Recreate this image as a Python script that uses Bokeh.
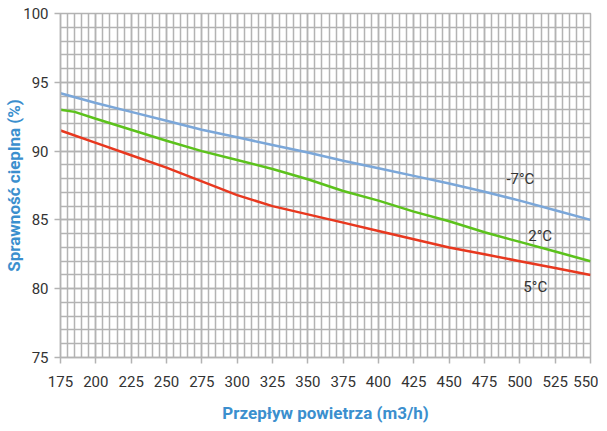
from bokeh.plotting import figure
from bokeh.models import Range1d, FixedTicker, Label
from bokeh.embed import file_html
from bokeh.resources import INLINE

# Data
flow = [175, 200, 225, 250, 275, 300, 325, 350, 375, 400, 425, 450, 475, 500, 525, 550]
eff_m7 = [94.2, 93.5, 92.85, 92.2, 91.55, 91.0, 90.45, 89.9, 89.3, 88.75, 88.2, 87.65, 87.05, 86.4, 85.7, 85.0]
flow_2 = [175, 185, 200, 225, 250, 275, 300, 325, 350, 375, 400, 425, 450, 475, 500, 525, 550]
eff_2 = [93.0, 92.85, 92.35, 91.55, 90.75, 90.0, 89.35, 88.7, 87.95, 87.1, 86.4, 85.6, 84.9, 84.1, 83.4, 82.7, 82.0]
eff_5 = [91.5, 90.6, 89.7, 88.8, 87.8, 86.8, 86.0, 85.4, 84.8, 84.2, 83.6, 83.0, 82.5, 82.0, 81.5, 81.0]

series_labels = ["-7°C", "2°C", "5°C"]
label_x = [490.5, 506, 502.5]
label_y = [87.95, 83.85, 80.1]

x_ticks = list(range(175, 551, 25))
y_ticks = [75, 80, 85, 90, 95, 100]

grid_col = "#b3b3b3"
title_col = "#3b8fce"
text_col = "#333333"
font = "Roboto"

p = figure(width=598, height=425, output_backend="svg", toolbar_location=None,
           x_range=Range1d(175, 550), y_range=Range1d(75, 100),
           min_border_left=60, min_border_right=8, min_border_top=13, min_border_bottom=68)

p.xaxis.ticker = FixedTicker(ticks=x_ticks, minor_ticks=list(range(175, 551, 5)))
p.yaxis.ticker = FixedTicker(ticks=y_ticks, minor_ticks=list(range(75, 101, 1)))

for g in (p.xgrid, p.ygrid):
    g.grid_line_color = grid_col
    g.grid_line_width = 1.5
    g.minor_grid_line_color = grid_col
    g.minor_grid_line_width = 1.5

p.outline_line_color = grid_col
p.outline_line_width = 1.5

for ax in (p.xaxis, p.yaxis):
    ax.axis_line_color = grid_col
    ax.axis_line_width = 1.5
    ax.major_tick_line_color = grid_col
    ax.major_tick_line_width = 1.5
    ax.major_tick_out = 6
    ax.major_tick_in = 0
    ax.minor_tick_out = 0
    ax.minor_tick_in = 0
    ax.major_label_text_font = font
    ax.major_label_text_font_size = "15px"
    ax.major_label_text_color = text_col
    ax.axis_label_text_font = font
    ax.axis_label_text_font_style = "bold"
    ax.axis_label_text_font_size = "17px"
    ax.axis_label_text_color = title_col

p.xaxis.axis_label = "Przepływ powietrza (m3/h)"
p.yaxis.axis_label = "Sprawność cieplna (%)"
p.xaxis.major_label_standoff = 12
p.yaxis.major_label_standoff = 6
p.xaxis.axis_label_standoff = 13
p.yaxis.axis_label_standoff = -4

p.line(flow, eff_m7, line_color="#7ba7d9", line_width=2.5)
p.line(flow_2, eff_2, line_color="#5cc21c", line_width=2.5)
p.line(flow, eff_5, line_color="#e8381f", line_width=2.5)

for t, lx, ly in zip(series_labels, label_x, label_y):
    p.add_layout(Label(x=lx, y=ly, text=t, text_font=font, text_font_size="15px",
                       text_color=text_col, text_align="left", text_baseline="middle"))

open("out.html", "w").write(file_html(p, INLINE))
